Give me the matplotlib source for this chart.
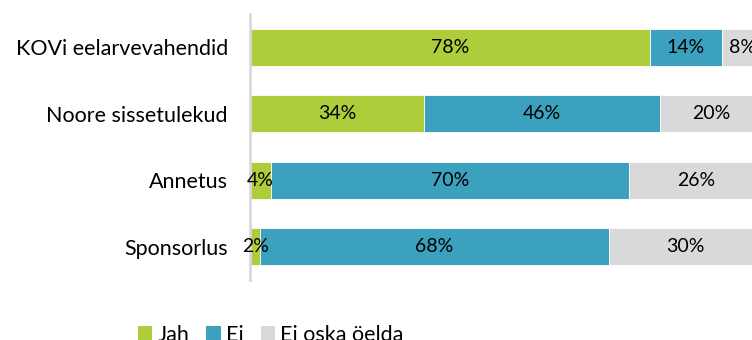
import matplotlib
matplotlib.use("Agg")
import matplotlib.pyplot as plt
from matplotlib.patches import Patch

plt.rcParams['font.family'] = ['Lato', 'DejaVu Sans']

categories = ['KOVi eelarvevahendid', 'Noore sissetulekud', 'Annetus', 'Sponsorlus']
jah = [78, 34, 4, 2]
ei = [14, 46, 70, 68]
ei_oska = [8, 20, 26, 30]
series_names = ['Jah', 'Ei', 'Ei oska öelda']
colors = ['#AECD3B', '#3CA1BF', '#D9D9D9']

W, H = 752, 340
fig = plt.figure(figsize=(W / 100, H / 100), dpi=100)
# plot area runs past the right edge, like the original export
ax = fig.add_axes([250 / W, 60 / H, 512.5 / W, 266 / H])

ypos = list(range(len(categories)))
left = [0] * len(categories)
for vals, name, col in zip([jah, ei, ei_oska], series_names, colors):
    bars = ax.barh(ypos, vals, left=left, height=0.56, color=col,
                   edgecolor='white', linewidth=0.6, label=name)
    for y, v, l in zip(ypos, vals, left):
        ax.text(l + v / 2, y, f'{v}%', ha='center', va='center',
                fontsize=14, color='black')
    left = [a + b for a, b in zip(left, vals)]

ax.set_xlim(0, 100)
ax.set_ylim(len(categories) - 0.5, -0.5)
ax.set_yticks(ypos)
ax.set_yticklabels(categories, fontsize=15.5)
ax.tick_params(axis='y', length=0, pad=16)
ax.set_xticks([])
for s in ['top', 'right', 'bottom']:
    ax.spines[s].set_visible(False)
ax.spines['left'].set_color('#D9D9D9')
ax.spines['left'].set_linewidth(2)

handles = [Patch(facecolor=c, edgecolor='none') for c in colors]
fig.legend(handles, series_names, loc='upper left',
           bbox_to_anchor=(129 / W, 1 - 316 / H), ncol=3, frameon=False,
           fontsize=15.5, handlelength=0.66, handleheight=0.66,
           handletextpad=0.25, columnspacing=0.8, borderaxespad=0)

fig.savefig('out.png', dpi=100)
